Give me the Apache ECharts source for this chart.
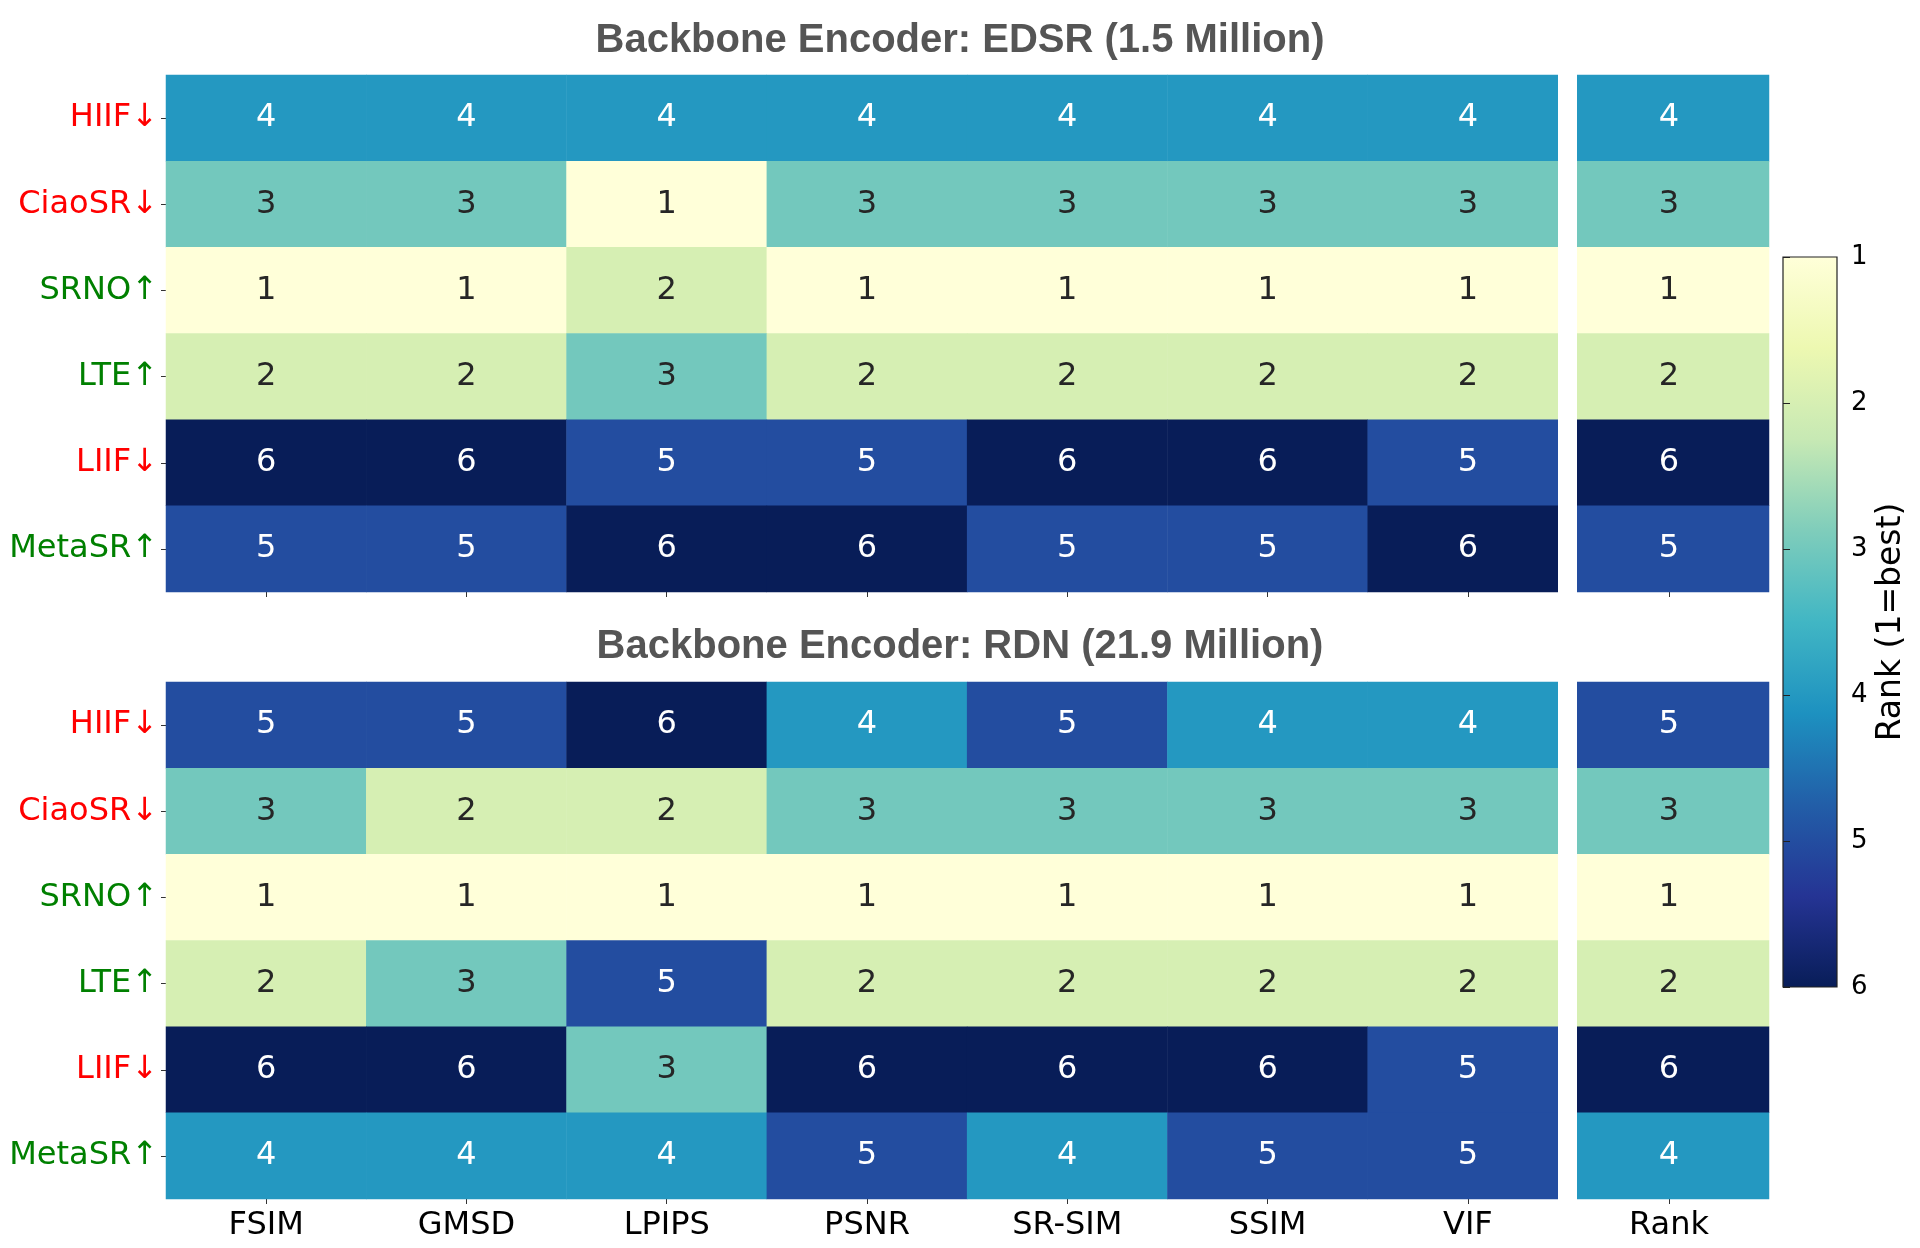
<!DOCTYPE html>
<html><head><meta charset="utf-8">
<script src="https://cdn.jsdelivr.net/npm/echarts@6/dist/echarts.min.js"></script>
<style>html,body{margin:0;padding:0;background:#fff}#c{width:1920px;height:1248px}</style>
</head><body><div id="c"></div>
<script>
const metrics = ['FSIM','GMSD','LPIPS','PSNR','SR-SIM','SSIM','VIF'];
const rankCol = ['Rank'];
const methods = ['HIIF↓','CiaoSR↓','SRNO↑','LTE↑','LIIF↓','MetaSR↑'];
const edsrRanks = [
  [4,4,4,4,4,4,4],
  [3,3,1,3,3,3,3],
  [1,1,2,1,1,1,1],
  [2,2,3,2,2,2,2],
  [6,6,5,5,6,6,5],
  [5,5,6,6,5,5,6]
];
const edsrOverall = [4,3,1,2,6,5];
const rdnRanks = [
  [5,5,6,4,5,4,4],
  [3,2,2,3,3,3,3],
  [1,1,1,1,1,1,1],
  [2,3,5,2,2,2,2],
  [6,6,3,6,6,6,5],
  [4,4,4,5,4,5,5]
];
const rdnOverall = [5,3,1,2,6,4];
const titles = ['Backbone Encoder: EDSR (1.5 Million)','Backbone Encoder: RDN (21.9 Million)'];
const colorbarTicks = [1,2,3,4,5,6];
const colorbarName = 'Rank (1=best)';
const ylgnbu = ['#ffffd9','#edf8b1','#c7e9b4','#7fcdbb','#41b6c4','#1d91c0','#225ea8','#253494','#081d58'];

function cells(matrix){
  const out=[];
  matrix.forEach((row,r)=>row.forEach((v,c)=>out.push([c,r,v])));
  return out;
}
function colCells(arr){ return arr.map((v,r)=>[0,r,v]); }

const FONT = 'DejaVu Sans';
const FS = 32;
const L = {main:166, mainW:1402, rank:1569, rankW:200};
const T = {top:75, bot:682, h:517};

const grids = [
  {left:L.main, top:T.top, width:L.mainW, height:T.h},
  {left:L.rank, top:T.top, width:L.rankW, height:T.h},
  {left:L.main, top:T.bot, width:L.mainW, height:T.h},
  {left:L.rank, top:T.bot, width:L.rankW, height:T.h},
  {left:1783, top:257, width:54, height:730, show:true, borderColor:'#222', borderWidth:1.2,
   backgroundColor: new echarts.graphic.LinearGradient(0,0,0,1, ylgnbu.map((c,i)=>({offset:i/(ylgnbu.length-1), color:c})))}
];

const tick = {show:true, alignWithLabel:true, length:5, lineStyle:{color:'#333', width:1}};
function xAx(gi, data, showLabels){
  return {type:'category', gridIndex:gi, data:data, position:'bottom',
    axisLine:{show:false}, axisTick:tick, splitLine:{show:false},
    axisLabel:{show:showLabels, fontFamily:FONT, fontSize:FS, color:'#000', margin:11}};
}
function yAx(gi, showLabels){
  return {type:'category', gridIndex:gi, data:methods, inverse:true,
    axisLine:{show:false}, axisTick:showLabels?tick:{show:false}, splitLine:{show:false},
    axisLabel:{show:showLabels, margin:8,
      formatter:v=>'{'+(v.indexOf('↓')>=0?'r':'g')+'|'+v+'}',
      rich:{r:{color:'#ff0000', fontFamily:FONT, fontSize:FS}, g:{color:'#008000', fontFamily:FONT, fontSize:FS}}}};
}
const xAxes = [xAx(0,metrics,false), xAx(1,rankCol,false), xAx(2,metrics,true), xAx(3,rankCol,true),
  {type:'value', gridIndex:4, show:false, min:0, max:1}];
const yAxes = [yAx(0,true), yAx(1,false), yAx(2,true), yAx(3,false),
  {type:'value', gridIndex:4, min:colorbarTicks[0], max:colorbarTicks[colorbarTicks.length-1], interval:1, inverse:true, position:'right',
   axisLine:{show:false}, axisTick:{show:true, length:7, lineStyle:{color:'#222'}}, splitLine:{show:false},
   axisLabel:{fontFamily:FONT, fontSize:26, color:'#000', margin:14},
   name:colorbarName, nameLocation:'middle', nameRotate:90, nameGap:38,
   nameTextStyle:{fontFamily:FONT, fontSize:33, color:'#000'}}];

const label = {show:true, fontFamily:FONT, fontSize:FS,
  formatter:p=>'{'+(p.value[2]>=4?'w':'d')+'|'+p.value[2]+'}',
  rich:{w:{color:'#ffffff', fontFamily:FONT, fontSize:FS}, d:{color:'#262626', fontFamily:FONT, fontSize:FS}}};
function hm(i,data){
  return {type:'heatmap', xAxisIndex:i, yAxisIndex:i, data:data, label:label,
    itemStyle:{borderWidth:0}, emphasis:{disabled:true}, silent:true, progressive:0, animation:false};
}
const series = [hm(0,cells(edsrRanks)), hm(1,colCells(edsrOverall)), hm(2,cells(rdnRanks)), hm(3,colCells(rdnOverall))];

const chart = echarts.init(document.getElementById('c'), null, {renderer:'canvas'});
chart.setOption({
  animation:false,
  backgroundColor:'#fff',
  title: titles.map((t,i)=>({text:t, left:955, top:i===0?16:622, textAlign:'center',
    textStyle:{fontFamily:'Liberation Sans', fontWeight:'bold', fontSize:40, color:'#555555'}})),
  grid:grids, xAxis:xAxes, yAxis:yAxes,
  visualMap:{type:'continuous', min:1, max:6, show:false, seriesIndex:[0,1,2,3], inRange:{color:ylgnbu}},
  graphic:[{type:'rect', z:100, silent:true, shape:{x:1558, y:70, width:19, height:1135}, style:{fill:'#ffffff'}}],
  series:series
});
</script></body></html>
